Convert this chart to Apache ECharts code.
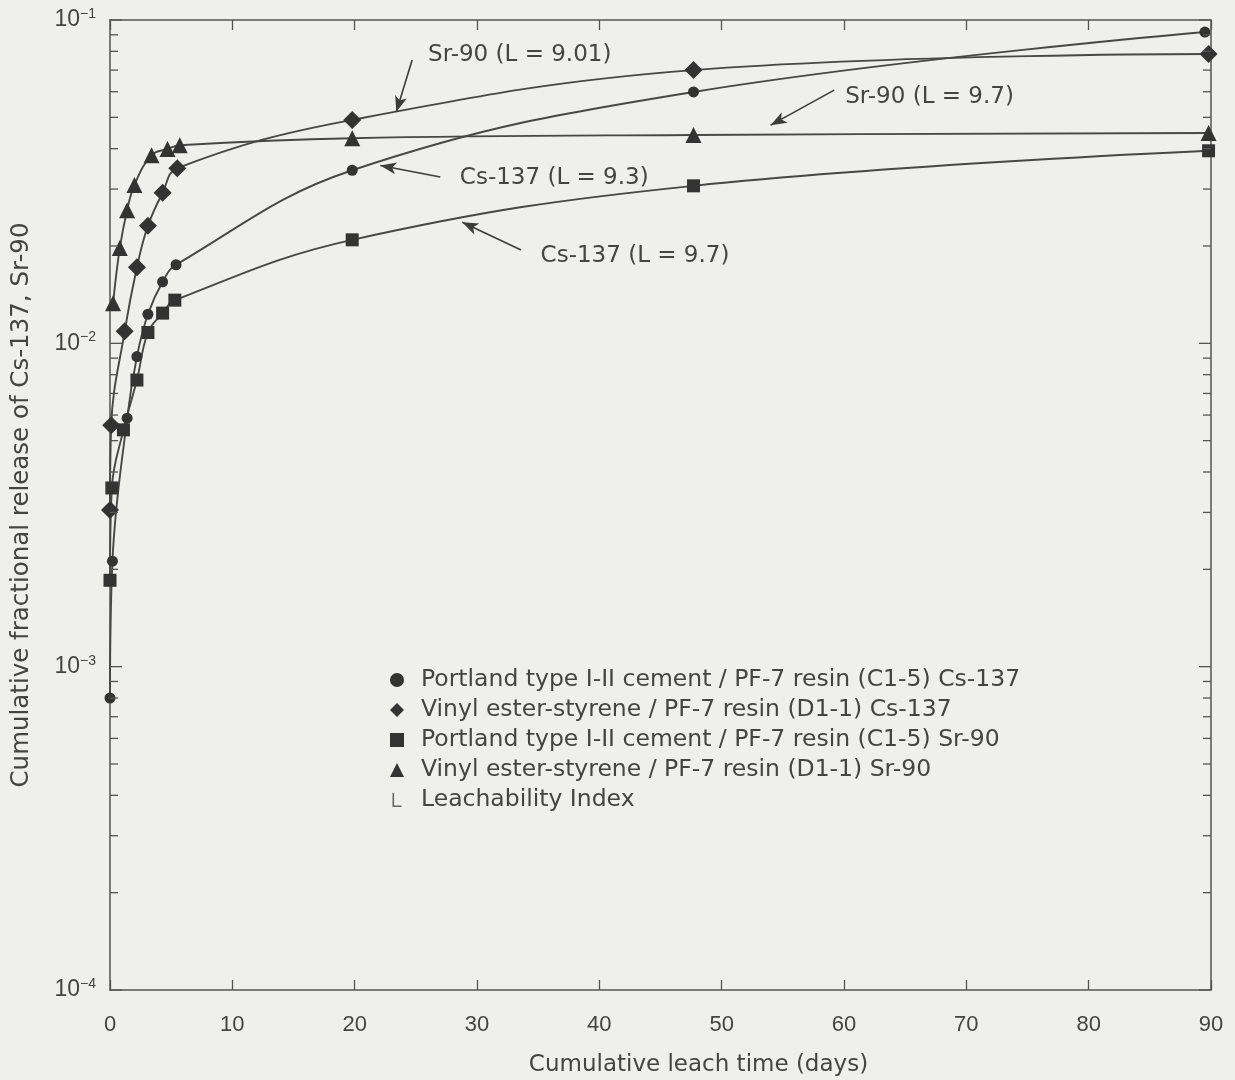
<!DOCTYPE html>
<html>
<head>
<meta charset="utf-8">
<title>Cumulative fractional release of Cs-137 and Sr-90</title>
<script src="https://cdn.jsdelivr.net/npm/echarts@6/dist/echarts.min.js"></script>
<style>
  html, body { margin: 0; padding: 0; background: #efefed; }
  #chart { width: 1235px; height: 1080px; }
</style>
</head>
<body>
<div id="chart"></div>
<script>
// Portland type I-II cement / PF-7 resin (C1-5), Cs-137
const portlandCsTimes  = [0, 0.2, 1.4, 2.2, 3.1, 4.3, 5.4, 19.8, 47.7, 89.5];
const portlandCsValues = [0.0008, 0.00212, 0.00587, 0.0091, 0.0123, 0.0155, 0.0175, 0.0343, 0.0599, 0.0918];

// Vinyl ester-styrene / PF-7 resin (D1-1), Cs-137
const vinylCsTimes  = [0, 0.1, 1.2, 2.2, 3.1, 4.3, 5.5, 19.8, 47.7, 89.8];
const vinylCsValues = [0.00305, 0.00558, 0.0109, 0.0172, 0.0231, 0.0292, 0.0348, 0.0491, 0.070, 0.0785];

// Portland type I-II cement / PF-7 resin (C1-5), Sr-90
const portlandSrTimes  = [0, 0.15, 1.1, 2.2, 3.1, 4.3, 5.3, 19.8, 47.7, 89.8];
const portlandSrValues = [0.00185, 0.00357, 0.0054, 0.0077, 0.0108, 0.0124, 0.0136, 0.0209, 0.0307, 0.0394];

// Vinyl ester-styrene / PF-7 resin (D1-1), Sr-90
const vinylSrTimes  = [0.25, 0.8, 1.4, 2.0, 3.4, 4.7, 5.7, 19.8, 47.7, 89.8];
const vinylSrValues = [0.0133, 0.0197, 0.0258, 0.0309, 0.0382, 0.0399, 0.0410, 0.0431, 0.0441, 0.0447];

const legendNames = [
  'Portland type I-II cement / PF-7 resin (C1-5) Cs-137',
  'Vinyl ester-styrene / PF-7 resin (D1-1) Cs-137',
  'Portland type I-II cement / PF-7 resin (C1-5) Sr-90',
  'Vinyl ester-styrene / PF-7 resin (D1-1) Sr-90',
  'Leachability Index'
];

// Leachability index callouts: label text, label anchor [t, value], arrow tail and head
const calloutTexts   = ['Sr-90 (L = 9.01)', 'Sr-90 (L = 9.7)', 'Cs-137 (L = 9.3)', 'Cs-137 (L = 9.7)'];
const calloutAnchors = [[26.0, 0.078], [60.1, 0.0578], [28.6, 0.0324], [35.2, 0.0186]];
const arrowTails     = [[24.7, 0.0752], [59.2, 0.0607], [27.0, 0.0327], [33.6, 0.01945]];
const arrowHeads     = [[23.4, 0.0519], [54.0, 0.0473], [22.1, 0.0355], [28.8, 0.0237]];

// Tick marks along the log axis: 1..9 per decade
const decades = [-4, -3, -2];
const tickMultipliers = [1, 2, 3, 4, 5, 6, 7, 8, 9];

const xTickLabels = [0, 10, 20, 30, 40, 50, 60, 70, 80, 90];

const INK = '#444';
const LINE = '#474747';
const FONT = '"Liberation Sans", Arial, Helvetica, sans-serif';
const WIDE = '"DejaVu Sans", "Liberation Sans", Arial, sans-serif';

function pairs(ts, vs) { return ts.map((t, i) => [t, vs[i]]); }

const yTicks = [];
decades.forEach(d => tickMultipliers.forEach(m => yTicks.push([m, Number((m * Math.pow(10, d)).toPrecision(3))])));
yTicks.push([1, 0.1]);

function dataSeries(name, ts, vs, symbol, size) {
  return {
    name: name,
    type: 'line',
    data: pairs(ts, vs),
    smooth: 0.4,
    symbol: symbol,
    symbolSize: size,
    showSymbol: true,
    itemStyle: { color: '#333' },
    lineStyle: { color: LINE, width: 1.9 },
    z: 3,
    animation: false
  };
}

const axisLineStyle = { color: '#555', width: 1.5 };

const chart = echarts.init(document.getElementById('chart'), null, { renderer: 'canvas' });

chart.setOption({
  backgroundColor: '#efefed',
  animation: false,
  grid: { left: 110, right: 24, top: 20, bottom: 90, containLabel: false, outerBoundsMode: 'none' },
  legend: {
    orient: 'vertical',
    left: 385,
    top: 663,
    itemWidth: 14,
    itemHeight: 14,
    itemGap: 6,
    selectedMode: false,
    textStyle: { color: INK, fontSize: 23.5, fontFamily: WIDE, padding: [0, 0, 0, 12] },
    data: [
      { name: legendNames[0], icon: 'circle', itemStyle: { color: '#333' } },
      { name: legendNames[1], icon: 'diamond', itemStyle: { color: '#333' } },
      { name: legendNames[2], icon: 'rect', itemStyle: { color: '#333' } },
      { name: legendNames[3], icon: 'triangle', itemStyle: { color: '#333' } },
      { name: legendNames[4], icon: 'path://M0,0h1.6v12.4h7.4v1.6h-9z', itemStyle: { color: '#666' } }
    ]
  },
  xAxis: [{
    type: 'value',
    min: 0, max: 90, interval: 10,
    position: 'bottom',
    name: 'Cumulative leach time (days)',
    nameLocation: 'middle',
    nameGap: 64,
    nameTextStyle: { color: INK, fontSize: 23, fontFamily: WIDE, padding: [0, 0, 0, 76] },
    axisLine: { show: true, onZero: false, lineStyle: axisLineStyle },
    axisTick: { show: true, inside: true, length: 10, lineStyle: { color: '#555', width: 1.3 } },
    axisLabel: { color: INK, fontSize: 22, fontFamily: FONT, margin: 24,
      formatter: v => xTickLabels.indexOf(v) >= 0 ? String(v) : '' },
    splitLine: { show: false }
  }, {
    type: 'value',
    min: 0, max: 90, interval: 10,
    position: 'top',
    axisLine: { show: true, onZero: false, lineStyle: axisLineStyle },
    axisTick: { show: true, inside: true, length: 10, lineStyle: { color: '#555', width: 1.3 } },
    axisLabel: { show: false },
    splitLine: { show: false }
  }],
  yAxis: [{
    type: 'log',
    logBase: 10,
    min: 0.0001, max: 0.1,
    position: 'left',
    name: 'Cumulative fractional release of Cs-137, Sr-90',
    nameLocation: 'middle',
    nameGap: 76,
    nameRotate: 90,
    nameTextStyle: { color: INK, fontSize: 24.5, fontFamily: WIDE },
    axisLine: { show: true, onZero: false, lineStyle: axisLineStyle },
    axisTick: { show: false },
    splitLine: { show: false },
    axisLabel: {
      margin: 14,
      formatter: v => {
        const e = Math.round(Math.log10(v));
        return '{b|10}{s|\u2212' + Math.abs(e) + '}';
      },
      rich: {
        b: { color: INK, fontSize: 23, fontFamily: FONT, lineHeight: 26 },
        s: { color: INK, fontSize: 14, fontFamily: FONT, verticalAlign: 'top', lineHeight: 14 }
      }
    }
  }, {
    type: 'log',
    logBase: 10,
    min: 0.0001, max: 0.1,
    position: 'right',
    axisLine: { show: true, onZero: false, lineStyle: axisLineStyle },
    axisTick: { show: false },
    axisLabel: { show: false },
    splitLine: { show: false }
  }],
  series: [
    dataSeries(legendNames[0], portlandCsTimes, portlandCsValues, 'circle', 11),
    dataSeries(legendNames[1], vinylCsTimes, vinylCsValues, 'diamond', 18),
    dataSeries(legendNames[2], portlandSrTimes, portlandSrValues, 'rect', 13),
    dataSeries(legendNames[3], vinylSrTimes, vinylSrValues, 'triangle', 16),
    {
      name: legendNames[4],
      type: 'line',
      data: [],
      silent: true,
      markLine: {
        silent: true,
        symbol: ['none', 'arrow'],
        symbolSize: [9, 16],
        label: { show: false },
        lineStyle: { color: '#3c3c3c', width: 1.6, type: 'solid' },
        data: arrowTails.map((a, i) => [{ coord: a }, { coord: arrowHeads[i] }])
      },
      markPoint: {
        silent: true,
        symbol: 'circle',
        symbolSize: 0,
        label: {
          show: true,
          position: 'right',
          distance: 0,
          color: INK,
          fontSize: 23,
          fontFamily: WIDE,
          formatter: p => p.name
        },
        data: calloutTexts.map((t, i) => ({ name: t, coord: calloutAnchors[i] }))
      }
    },
    {
      // inward tick marks on the left and right frame of the log axis
      type: 'custom',
      silent: true,
      clip: false,
      z: 4,
      data: yTicks,
      renderItem: (params, api) => {
        const m = api.value(0);
        const v = api.value(1);
        const len = m === 1 ? 12 : 8;
        const l = api.coord([0, v]);
        const r = api.coord([90, v]);
        const style = { stroke: '#555', lineWidth: 1.3 };
        return {
          type: 'group',
          children: [
            { type: 'line', shape: { x1: l[0], y1: l[1], x2: l[0] + len, y2: l[1] }, style: style },
            { type: 'line', shape: { x1: r[0], y1: r[1], x2: r[0] - len, y2: r[1] }, style: style }
          ]
        };
      }
    }
  ]
});
</script>
</body>
</html>
